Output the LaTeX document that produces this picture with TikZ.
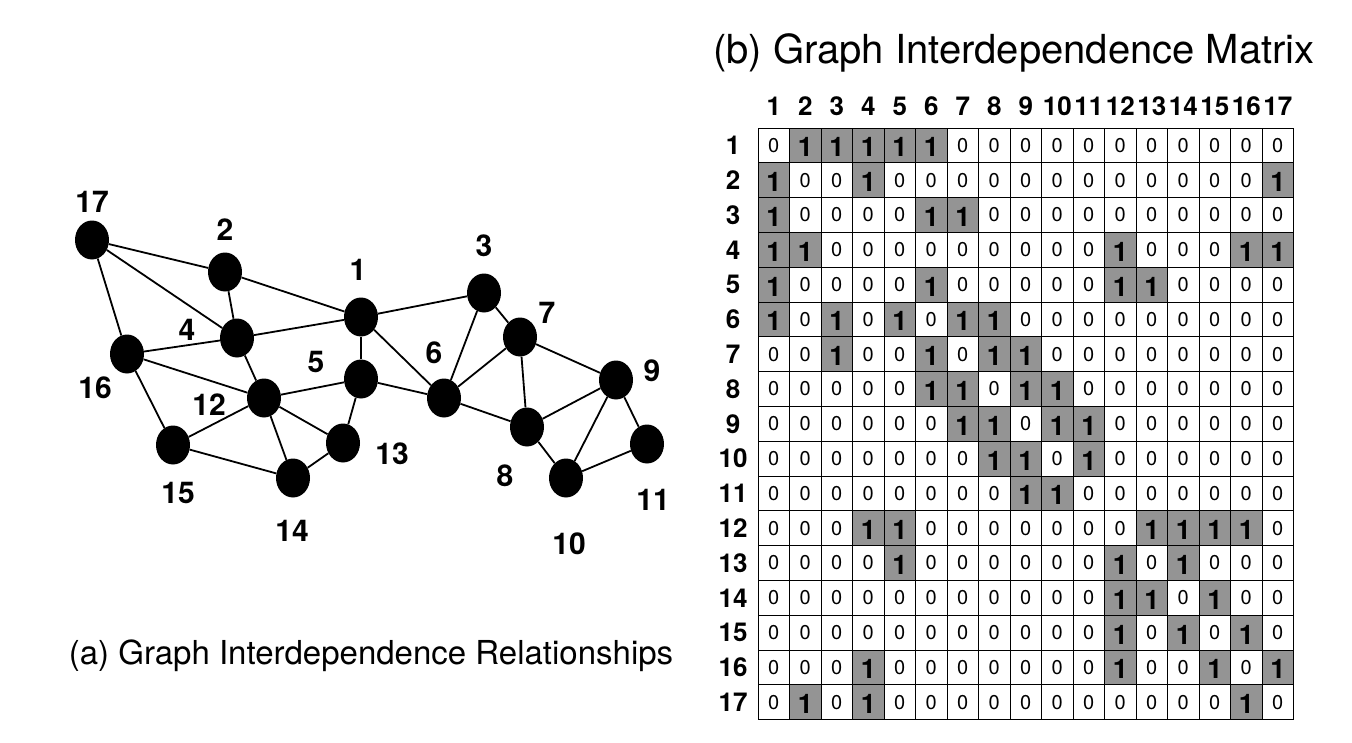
\documentclass[tikz,border=0pt]{standalone}
\usepackage{fontspec}
\setmainfont{TeX Gyre Heros}
\usetikzlibrary{shapes.geometric}
\definecolor{cellgray}{RGB}{148,148,148}
\begin{document}
\begin{tikzpicture}[x=1pt,y=-1pt,
  vtx/.style={ellipse,fill=black,minimum width=34pt,minimum height=39pt,inner sep=0pt},
  vlab/.style={font=\fontsize{30}{30}\selectfont\bfseries},
  edge/.style={line width=1.8pt},
  hdr/.style={font=\fontsize{26}{26}\selectfont\bfseries,inner sep=0pt},
  zero/.style={font=\fontsize{20}{20}\selectfont,inner sep=0pt},
  one/.style={font=\fontsize{27}{27}\selectfont\bfseries,inner sep=0pt}]
\useasboundingbox (0,0) rectangle (1352,742);
% vertices
\foreach \n/\x/\y in {17/92/240,2/225/272,1/361/317,3/484/293,7/520/337,4/237/338,16/127/354,
  5/361/379,6/444/398,12/264/398,9/616/380,8/527/427,13/343/443,11/647/444,15/173/445,14/293/478,10/566/478}
  \node[vtx] (v\n) at (\x,\y) {};
% vertex labels
\foreach \n/\x/\y in {17/92/202,2/225/230,1/358/270,3/484/246,7/547/313,4/187/330,16/95/388,
  5/316/362,6/434/353,12/209/405,9/652/371,8/505/476,13/392/454,11/653/500,15/178/493,14/292/531,10/569/544}
  \node[vlab] (l\n) at (\x,\y) {\n};
% edges
\foreach \a/\b in {17/2,17/4,17/16,2/4,2/1,4/1,4/16,4/12,16/12,16/15,15/12,15/14,12/5,12/14,12/13,14/13,
  5/1,5/13,5/6,1/3,1/6,3/6,3/7,6/7,6/8,7/8,7/9,8/9,8/10,9/10,9/11,10/11}
  \draw[edge] (v\a) -- (v\b);
\node[font=\fontsize{33}{33}\selectfont] (capa) at (371,656) {(a) Graph Interdependence Relationships};
\node[font=\fontsize{40}{40}\selectfont] (capb) at (1014,53) {(b) Graph Interdependence Matrix};
% matrix
\def\L{758}\def\T{128}\def\cw{31.5}\def\rh{34.8}
\foreach \row [count=\i] in {
 {0,1,1,1,1,1,0,0,0,0,0,0,0,0,0,0,0},
 {1,0,0,1,0,0,0,0,0,0,0,0,0,0,0,0,1},
 {1,0,0,0,0,1,1,0,0,0,0,0,0,0,0,0,0},
 {1,1,0,0,0,0,0,0,0,0,0,1,0,0,0,1,1},
 {1,0,0,0,0,1,0,0,0,0,0,1,1,0,0,0,0},
 {1,0,1,0,1,0,1,1,0,0,0,0,0,0,0,0,0},
 {0,0,1,0,0,1,0,1,1,0,0,0,0,0,0,0,0},
 {0,0,0,0,0,1,1,0,1,1,0,0,0,0,0,0,0},
 {0,0,0,0,0,0,1,1,0,1,1,0,0,0,0,0,0},
 {0,0,0,0,0,0,0,1,1,0,1,0,0,0,0,0,0},
 {0,0,0,0,0,0,0,0,1,1,0,0,0,0,0,0,0},
 {0,0,0,1,1,0,0,0,0,0,0,0,1,1,1,1,0},
 {0,0,0,0,1,0,0,0,0,0,0,1,0,1,0,0,0},
 {0,0,0,0,0,0,0,0,0,0,0,1,1,0,1,0,0},
 {0,0,0,0,0,0,0,0,0,0,0,1,0,1,0,1,0},
 {0,0,0,1,0,0,0,0,0,0,0,1,0,0,1,0,1},
 {0,1,0,1,0,0,0,0,0,0,0,0,0,0,0,1,0}}{
  \foreach \v [count=\j] in \row {
    \coordinate (c\i-\j) at ({\L+(\j-1)*\cw},{\T+(\i-1)*\rh});
    \ifnum\v=1
      \fill[cellgray] (c\i-\j) rectangle ++(\cw,\rh);
      \node[one] (t\i-\j) at ([shift={(\cw/2,\rh/2+2)}]c\i-\j) {1};
    \else
      \node[zero] (t\i-\j) at ([shift={(\cw/2,\rh/2)}]c\i-\j) {0};
    \fi
  }
}
\foreach \j in {0,...,17} \draw[line width=1pt] ({\L+\j*\cw},\T) -- ({\L+\j*\cw},{\T+17*\rh});
\foreach \i in {0,...,17} \draw[line width=1pt] (\L,{\T+\i*\rh}) -- ({\L+17*\cw},{\T+\i*\rh});
\foreach \j in {1,...,17}{
  \node[hdr] (h\j) at ({\L+(\j-0.5)*\cw},106) {\j};
  \node[hdr] (r\j) at (733,{\T+(\j-0.5)*\rh}) {\j};
}
\end{tikzpicture}
\end{document}
